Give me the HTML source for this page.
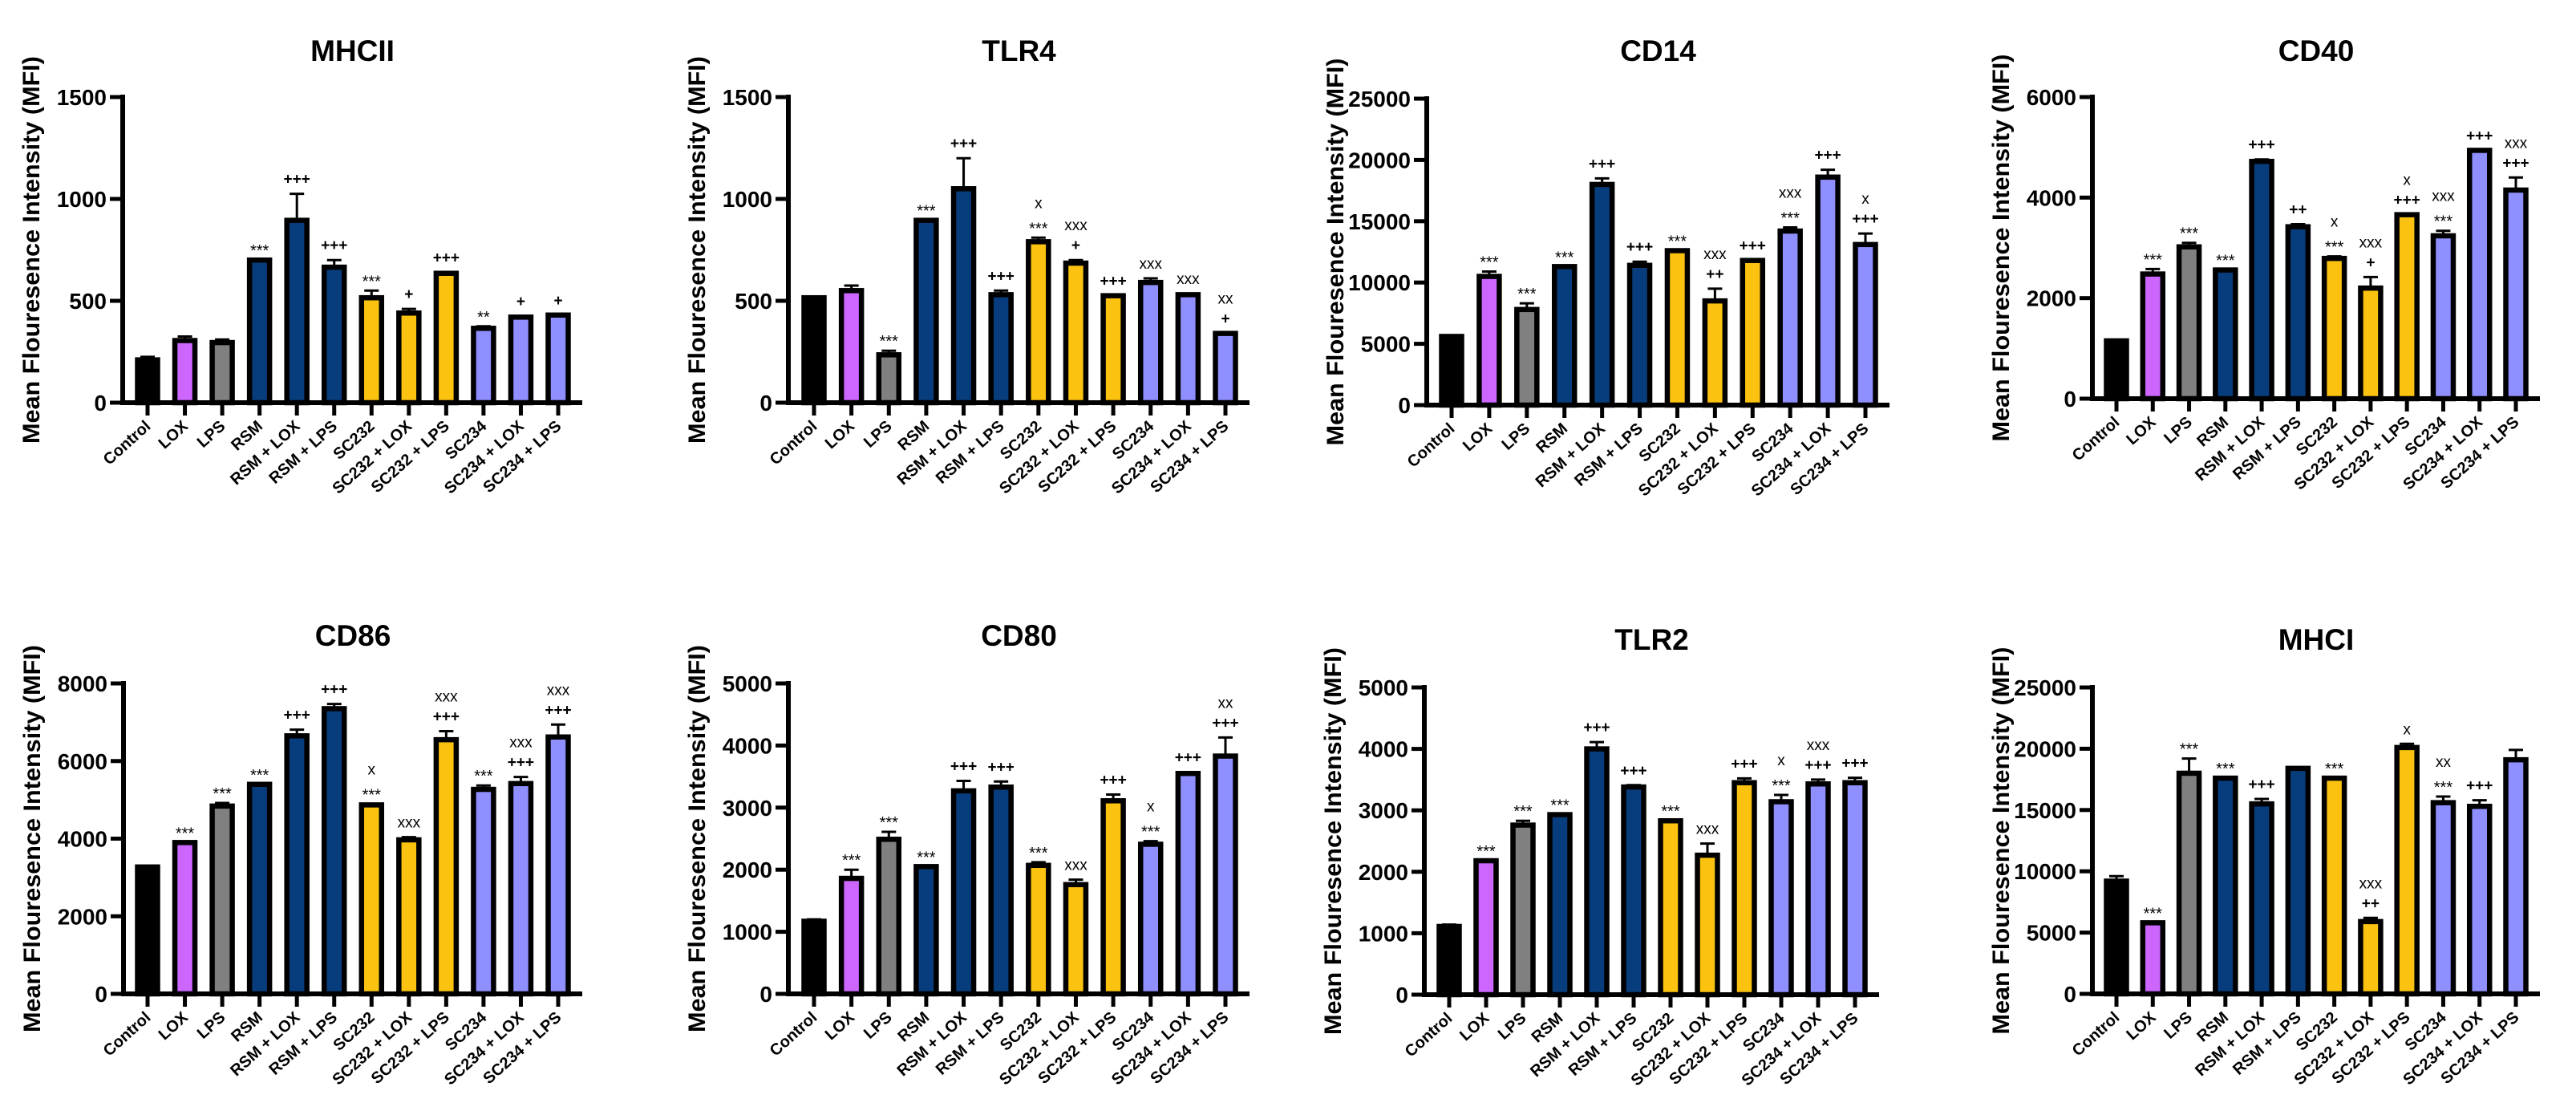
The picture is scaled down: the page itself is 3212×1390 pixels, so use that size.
<!DOCTYPE html>
<html><head><meta charset="utf-8"><style>
html,body{margin:0;padding:0;background:#fff;}
svg{display:block;font-family:"Liberation Sans",Arial,sans-serif;}
</style></head>
<body>
<svg id="fig" width="3212" height="1390" viewBox="0 0 3212 1390" xmlns="http://www.w3.org/2000/svg"></svg>
<script>
const categories = ["Control","LOX","LPS","RSM","RSM + LOX","RSM + LPS","SC232","SC232 + LOX","SC232 + LPS","SC234","SC234 + LOX","SC234 + LPS"];
const barColors = ["#000000","#cc66ff","#808080","#083d7d","#083d7d","#083d7d","#fbc210","#fbc210","#fbc210","#8f8fff","#8f8fff","#8f8fff"];

const mhciiValues = [210,305,295,700,895,665,515,440,635,365,420,430];
const mhciiErrTop = [225,325,310,700,1025,700,550,460,640,375,425,430];
const mhciiTicks = [0,500,1000,1500];
const mhciiAnn = [[],[],[],["***"],["+++"],["+++"],["***"],["+"],["+++"],["**"],["+"],["+"]];

const tlr4Values = [515,550,235,895,1050,530,790,685,525,590,530,340];
const tlr4ErrTop = [520,575,255,895,1200,550,810,700,525,610,535,340];
const tlr4Ticks = [0,500,1000,1500];
const tlr4Ann = [[],[],["***"],["***"],["+++"],["+++"],["x","***"],["xxx","+"],["+++"],["xxx"],["xxx"],["xx","+"]];

const cd14Values = [5600,10500,7800,11300,18000,11400,12600,8500,11800,14200,18600,13100];
const cd14ErrTop = [5600,10900,8300,11300,18500,11700,12600,9500,11800,14500,19200,14000];
const cd14Ticks = [0,5000,10000,15000,20000,25000];
const cd14Ann = [[],["***"],["***"],["***"],["+++"],["+++"],["***"],["xxx","++"],["+++"],["xxx","***"],["+++"],["x","+++"]];

const cd40Values = [1150,2480,3020,2560,4720,3420,2790,2200,3660,3240,4940,4150];
const cd40ErrTop = [1150,2580,3100,2560,4760,3470,2830,2420,3660,3340,4940,4400];
const cd40Ticks = [0,2000,4000,6000];
const cd40Ann = [[],["***"],["***"],["***"],["+++"],["++"],["x","***"],["xxx","+"],["x","+++"],["xxx","***"],["+++"],["xxx","+++"]];

const cd86Values = [3270,3900,4840,5400,6650,7350,4870,3970,6550,5270,5420,6620];
const cd86ErrTop = [3290,3900,4920,5400,6810,7470,4890,4040,6770,5370,5590,6940];
const cd86Ticks = [0,2000,4000,6000,8000];
const cd86Ann = [[],["***"],["***"],["***"],["+++"],["+++"],["x","***"],["xxx"],["xxx","+++"],["***"],["xxx","+++"],["xxx","+++"]];

const cd80Values = [1170,1860,2490,2050,3270,3330,2070,1760,3110,2410,3550,3830];
const cd80ErrTop = [1200,2000,2610,2050,3430,3420,2120,1840,3210,2460,3570,4130];
const cd80Ticks = [0,1000,2000,3000,4000,5000];
const cd80Ann = [[],["***"],["***"],["***"],["+++"],["+++"],["***"],["xxx"],["+++"],["x","***"],["+++"],["xx","+++"]];

const tlr2Values = [1110,2180,2760,2930,4000,3380,2830,2270,3450,3140,3430,3450];
const tlr2ErrTop = [1140,2180,2830,2930,4110,3410,2830,2460,3520,3250,3500,3530];
const tlr2Ticks = [0,1000,2000,3000,4000,5000];
const tlr2Ann = [[],["***"],["***"],["***"],["+++"],["+++"],["***"],["xxx"],["+++"],["x","***"],["xxx","+++"],["+++"]];

const mhciValues = [9200,5800,18000,17600,15500,18400,17600,5900,20100,15600,15300,19100];
const mhciErrTop = [9600,5800,19200,17600,15900,18400,17600,6200,20400,16100,15800,19900];
const mhciTicks = [0,5000,10000,15000,20000,25000];
const mhciAnn = [[],["***"],["***"],["***"],["+++"],[],["***"],["xxx","++"],["x"],["xx","***"],["+++"],[]];

const NS = "http://www.w3.org/2000/svg";
const svg = document.getElementById("fig");
function mk(tag, attrs, parent, text){
  const e = document.createElementNS(NS, tag);
  for (const k in attrs) e.setAttribute(k, attrs[k]);
  if (text !== undefined) e.textContent = text;
  parent.appendChild(e);
  return e;
}

const panels = [
 {id:"mhcii", title:"MHCII", vals:mhciiValues, err:mhciiErrTop, ticks:mhciiTicks, ann:mhciiAnn, ax:153, top:121, bot:502, first:184, last:696, end:726, ty:76},
 {id:"tlr4", title:"TLR4", vals:tlr4Values, err:tlr4ErrTop, ticks:tlr4Ticks, ann:tlr4Ann, ax:983, top:121, bot:502, first:1015, last:1528, end:1558, ty:76},
 {id:"cd14", title:"CD14", vals:cd14Values, err:cd14ErrTop, ticks:cd14Ticks, ann:cd14Ann, ax:1779, top:123, bot:505, first:1810, last:2326, end:2356, ty:76},
 {id:"cd40", title:"CD40", vals:cd40Values, err:cd40ErrTop, ticks:cd40Ticks, ann:cd40Ann, ax:2609, top:121, bot:497, first:2639, last:3137, end:3167, ty:76},
 {id:"cd86", title:"CD86", vals:cd86Values, err:cd86ErrTop, ticks:cd86Ticks, ann:cd86Ann, ax:154, top:852, bot:1239, first:184, last:696, end:726, ty:805},
 {id:"cd80", title:"CD80", vals:cd80Values, err:cd80ErrTop, ticks:cd80Ticks, ann:cd80Ann, ax:983, top:852, bot:1239, first:1015, last:1528, end:1558, ty:805},
 {id:"tlr2", title:"TLR2", vals:tlr2Values, err:tlr2ErrTop, ticks:tlr2Ticks, ann:tlr2Ann, ax:1776, top:857, bot:1240, first:1807, last:2313, end:2343, ty:810},
 {id:"mhci", title:"MHCI", vals:mhciValues, err:mhciErrTop, ticks:mhciTicks, ann:mhciAnn, ax:2609, top:857, bot:1239, first:2639, last:3137, end:3167, ty:810}
];

panels.forEach(p => {
  const g = mk("g", {}, svg);
  
  
  const ymax = p.ticks[p.ticks.length-1];
  const y = v => p.bot - v / ymax * (p.bot - p.top);
  const step = (p.last - p.first) / (categories.length - 1);
  const x = i => p.first + i * step;

  const t = mk("text", {x:(p.ax + p.end)/2, y:p.ty, "text-anchor":"middle", "font-size":37, "font-weight":"bold"}, g, p.title);
  
  

  const cy = (p.top + p.bot) / 2;
  const yt = mk("text", {x:0, y:0, transform:`translate(${p.ax-104},${cy}) rotate(-90)`, "text-anchor":"middle", "font-size":30, "font-weight":"bold", textLength:483, lengthAdjust:"spacingAndGlyphs"}, g, "Mean Flouresence Intensity (MFI)");
  
  

  p.vals.forEach((v, i) => {
    const cx = x(i);
    const e = p.err[i];
    if (e > v) {
      const el = mk("line", {x1:cx, x2:cx, y1:y(v), y2:y(e), stroke:"#000", "stroke-width":3}, g);
      
      
      const cap = mk("line", {x1:cx-9, x2:cx+9, y1:y(e), y2:y(e), stroke:"#000", "stroke-width":3}, g);
      
      
    }
    const r = mk("rect", {x:cx-12.5, y:y(v), width:25, height:p.bot - y(v), fill:barColors[i], stroke:"#000", "stroke-width":6.5}, g);
    
    
    const lines = p.ann[i];
    lines.forEach((s, k) => {
      const by = Math.min(y(e), y(v)) - 12 - (lines.length - 1 - k) * 25;
      const isStar = s.indexOf("*") >= 0;
      const a = mk("text", {x:cx, y: isStar ? by + 7 : by, "text-anchor":"middle", "font-size": isStar ? 20 : 19, "font-weight": s.indexOf("+")>=0 ? "bold" : "normal"}, g, s);
      
      
    });
    const tk = mk("line", {x1:cx, x2:cx, y1:p.bot, y2:p.bot+16, stroke:"#000", "stroke-width":5}, g);
    
    
    const lab = mk("text", {x:0, y:0, transform:`translate(${cx+5},${p.bot+31}) rotate(-42)`, "text-anchor":"end", "font-size":20, "font-weight":"bold"}, g, categories[i]);
    
    
  });

  const ya = mk("line", {x1:p.ax, x2:p.ax, y1:p.top-3, y2:p.bot+3, stroke:"#000", "stroke-width":6}, g);
  
  
  const xa = mk("line", {x1:p.ax-3, x2:p.end, y1:p.bot, y2:p.bot, stroke:"#000", "stroke-width":6}, g);
  
  
  p.ticks.forEach(tv => {
    const ty = y(tv);
    const tl = mk("line", {x1:p.ax-16, x2:p.ax, y1:ty, y2:ty, stroke:"#000", "stroke-width":5}, g);
    
    
    const tt = mk("text", {x:p.ax-20, y:ty+10, "text-anchor":"end", "font-size":28, "font-weight":"bold"}, g, String(tv));
    
    
  });
});
</script>
</body></html>
